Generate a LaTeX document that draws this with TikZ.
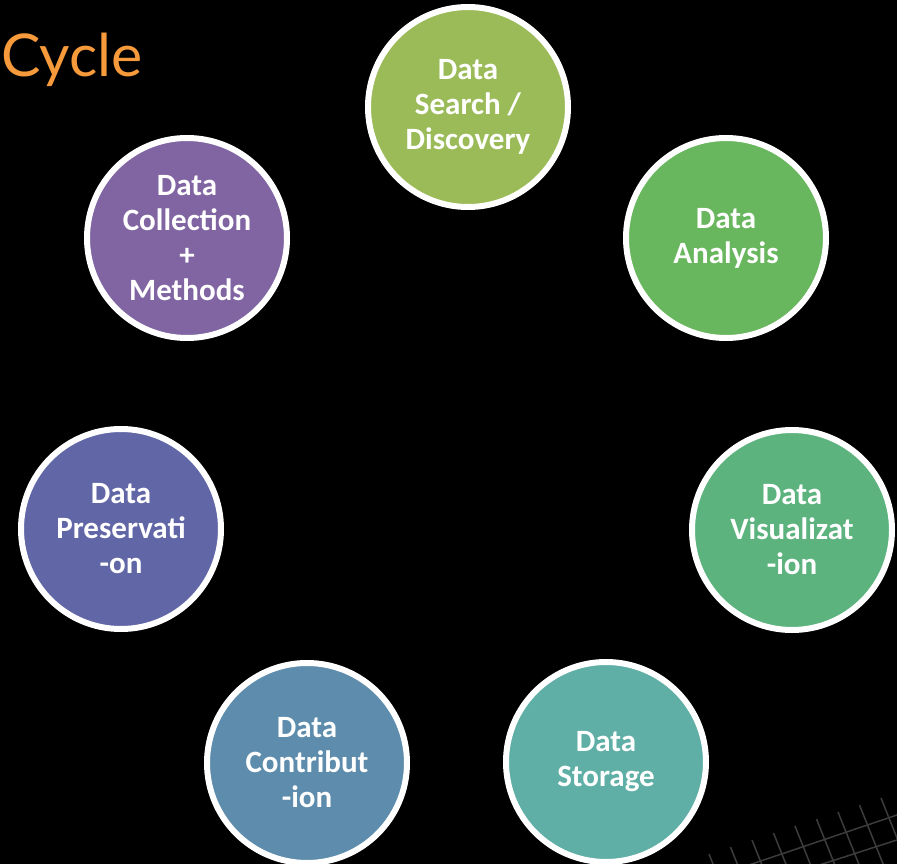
\documentclass[tikz,border=0pt]{standalone}
\usepackage{fontspec}
\setmainfont{Carlito}
\newfontfamily\titlefont{Lato}
\definecolor{cSearch}{HTML}{9BBB59}
\definecolor{cAnalysis}{HTML}{68B65D}
\definecolor{cVis}{HTML}{5DB37E}
\definecolor{cStorage}{HTML}{5FAFA6}
\definecolor{cContrib}{HTML}{5E8CAC}
\definecolor{cPreserve}{HTML}{6066A6}
\definecolor{cCollect}{HTML}{8065A2}
\definecolor{cTitle}{HTML}{F79A3B}
\definecolor{cGrid}{HTML}{3C3C3C}
\tikzset{
  stage/.style={circle, draw=white, line width=6pt, minimum size=200pt, inner sep=0pt,
    text=white, align=center, font=\fontsize{31}{35}\selectfont\bfseries},
  gridline/.style={cGrid, line width=1.5pt}
}
\begin{document}
\begin{tikzpicture}[x=1pt,y=-1pt]
\fill[black] (0,0) rectangle (897,864);
\useasboundingbox (0,0) rectangle (897,864);
% background grid lines
\foreach \i in {0,...,9}{
  \pgfmathsetmacro{\xt}{709+21.5*\i}
  \pgfmathsetmacro{\yt}{854-7*\i}
  \pgfmathsetmacro{\xb}{\xt+0.4*(870-\yt)}
  \coordinate (gt\i) at (\xt,\yt);
  \coordinate (gb\i) at (\xb,870);
  \draw[gridline] (gt\i) -- (gb\i);
}
\coordinate (ga1) at (740,868);
\coordinate (ga2) at (900,814);
\coordinate (gc1) at (810,868);
\coordinate (gc2) at (900,839);
\draw[gridline] (ga1) -- (ga2);
\draw[gridline] (gc1) -- (gc2);
% title
\node[anchor=base west, inner sep=0pt, text=cTitle, font=\titlefont\fontsize{59}{59}\selectfont] (title) at (1,77) {Cycle};
% stages
\node[stage, fill=cSearch]   (search)   at (468,107) {Data\\Search /\\Discovery};
\node[stage, fill=cAnalysis] (analysis) at (726,238) {Data\\Analysis};
\node[stage, fill=cVis]      (vis)      at (792,530) {Data\\Visualizat\\-ion};
\node[stage, fill=cStorage]  (storage)  at (606,762) {Data\\Storage};
\node[stage, fill=cContrib]  (contrib)  at (307,763) {Data\\Contribut\\-ion};
\node[stage, fill=cPreserve] (preserve) at (121,529) {Data\\Preservati\\-on};
\node[stage, fill=cCollect]  (collect)  at (187,238) {Data\\Collection\\+\\Methods};
\end{tikzpicture}
\end{document}
